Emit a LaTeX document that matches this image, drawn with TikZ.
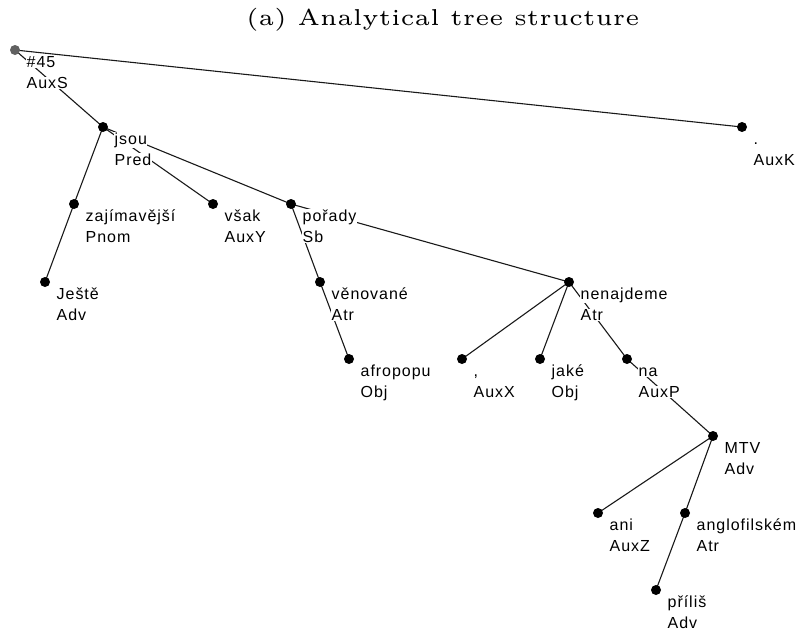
\documentclass[tikz,border=0pt]{standalone}
\usepackage{fontspec}
\usetikzlibrary{calc,backgrounds}
\newfontfamily\labfont[LetterSpace=6]{Liberation Sans}

% a tree node: dot, word form and analytical function below-right of it
\newcommand\treenode[6][dot]{%
  \node[#1] (#2) at (#3,#4) {};
  \node[lab] (#2w) at ($(#2)+(11,17.5)$) {#5};
  \node[lab] (#2f) at ($(#2)+(11,38.5)$) {#6};
}

\begin{document}
\begin{tikzpicture}[x=1pt,y=-1pt,
  dot/.style={circle,fill=black,inner sep=0pt,minimum size=10pt},
  rootdot/.style={circle,fill=black!62,inner sep=0pt,minimum size=10pt},
  lab/.style={anchor=base west,inner sep=0.5pt,fill=white,
    font=\labfont\fontsize{16}{18}\selectfont},
  edge/.style={draw=black!90,line width=1.1pt}]
\useasboundingbox (0,0) rectangle (800,632);

\node[anchor=base west,inner sep=0pt] (title) at (246,25)
  {\scalebox{4.6}{\fontsize{5}{6}\selectfont (a) Analytical tree structure}};

\treenode[rootdot]{n45}{15}{50}{\#45}{AuxS}
\treenode{auxk}{742}{127}{.}{AuxK}
\treenode{jsou}{103}{127}{jsou}{Pred}
\treenode{zaj}{74}{204}{zajímavější}{Pnom}
\treenode{jeste}{45}{282}{Ještě}{Adv}
\treenode{vsak}{213}{204}{však}{AuxY}
\treenode{porady}{291}{204}{pořady}{Sb}
\treenode{venovane}{320}{282}{věnované}{Atr}
\treenode{afropopu}{349}{359}{afropopu}{Obj}
\treenode{nenajdeme}{569}{282}{nenajdeme}{Atr}
\treenode{carka}{462}{359}{,}{AuxX}
\treenode{jake}{540}{359}{jaké}{Obj}
\treenode{na}{627}{359}{na}{AuxP}
\treenode{mtv}{713}{436}{MTV}{Adv}
\treenode{ani}{598}{513}{ani}{AuxZ}
\treenode{anglo}{685}{513}{anglofilském}{Atr}
\treenode{prilis}{656}{590}{příliš}{Adv}

\begin{scope}[on background layer]
  \draw[edge] (n45.center) -- (auxk.center);
  \draw[edge] (n45.center) -- (jsou.center);
  \draw[edge] (jsou.center) -- (zaj.center);
  \draw[edge] (zaj.center) -- (jeste.center);
  \draw[edge] (jsou.center) -- (vsak.center);
  \draw[edge] (jsou.center) -- (porady.center);
  \draw[edge] (porady.center) -- (venovane.center);
  \draw[edge] (venovane.center) -- (afropopu.center);
  \draw[edge] (porady.center) -- (nenajdeme.center);
  \draw[edge] (nenajdeme.center) -- (carka.center);
  \draw[edge] (nenajdeme.center) -- (jake.center);
  \draw[edge] (nenajdeme.center) -- (na.center);
  \draw[edge] (na.center) -- (mtv.center);
  \draw[edge] (mtv.center) -- (ani.center);
  \draw[edge] (mtv.center) -- (anglo.center);
  \draw[edge] (anglo.center) -- (prilis.center);
\end{scope}
\end{tikzpicture}
\end{document}
